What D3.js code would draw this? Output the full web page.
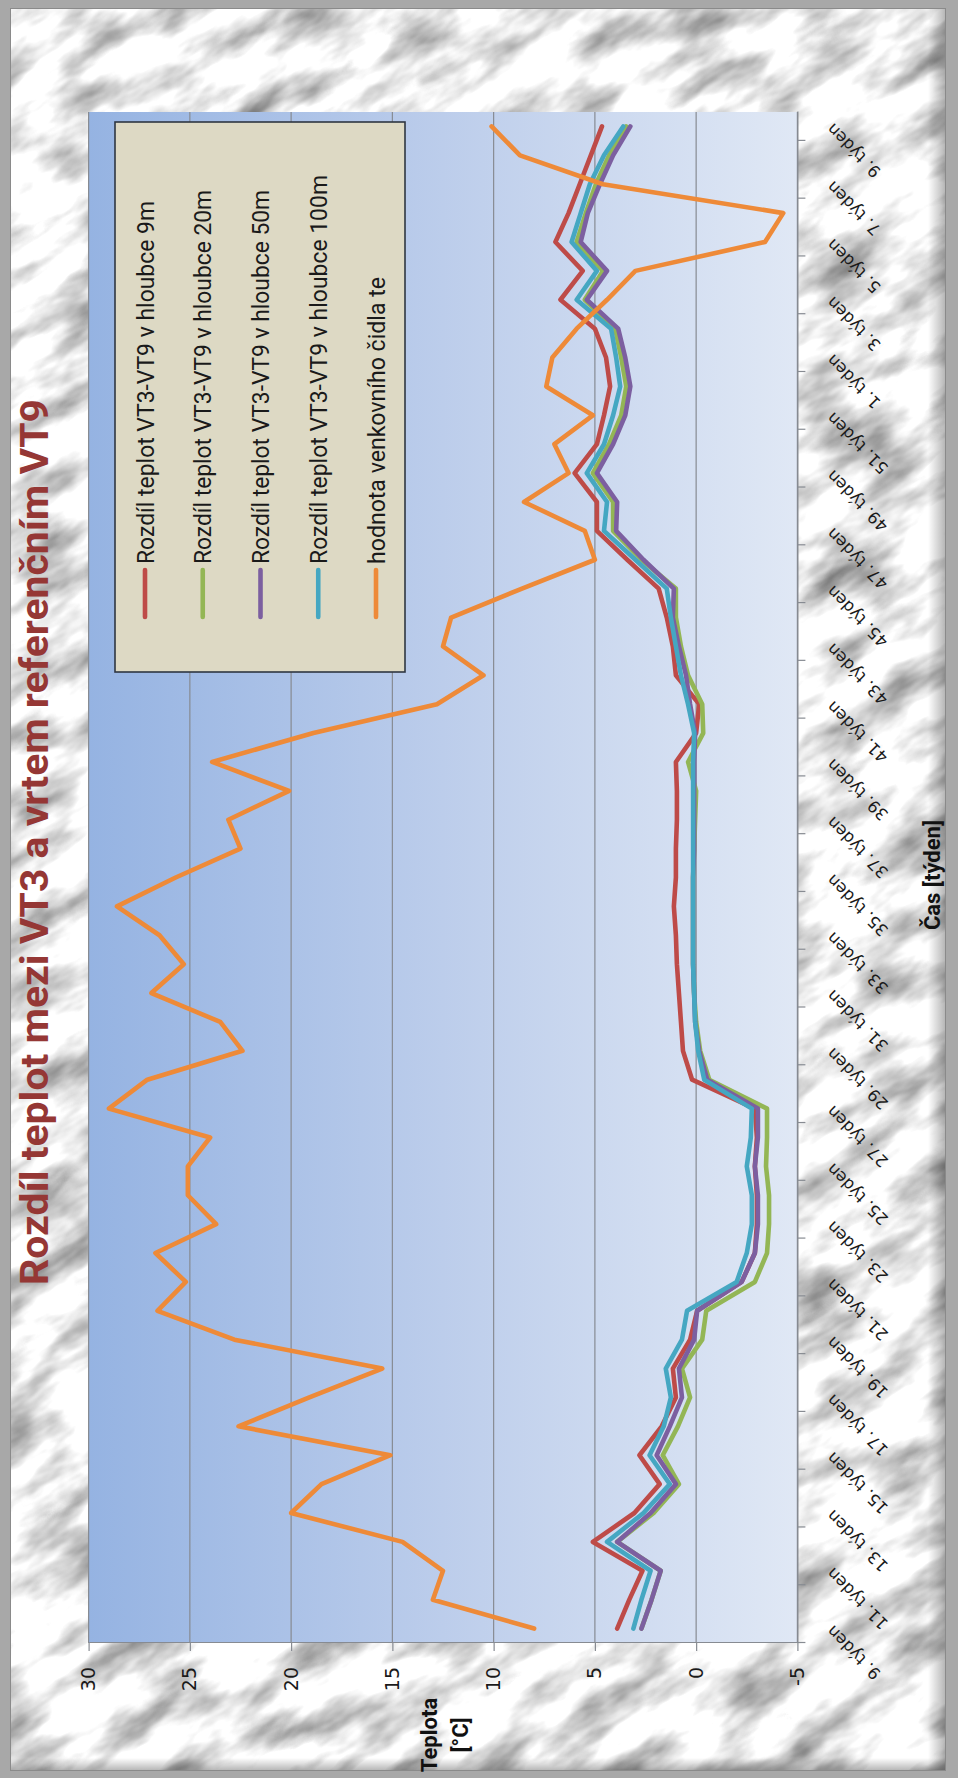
<!DOCTYPE html>
<html>
<head>
<meta charset="utf-8">
<script src="https://cdn.jsdelivr.net/npm/d3@7"></script>
<style>
  html, body { margin: 0; padding: 0; background: #ffffff; }
  svg { display: block; }
</style>
</head>
<body>
<div id="chart"></div>
<script>
// Week numbers along the time axis (week 9 of one year through week 9 of the next)
const weeks = [9,10,11,12,13,14,15,16,17,18,19,20,21,22,23,24,25,26,27,28,29,30,31,32,33,34,35,36,37,38,39,40,41,42,43,44,45,46,47,48,49,50,51,52,1,2,3,4,5,6,7,8,9];
const weekLabels = weeks.map(w => w + ". týden");

// Temperature axis ticks
const tempTicks = [-5, 0, 5, 10, 15, 20, 25, 30];

const seriesNames = [
  "Rozdíl teplot VT3-VT9 v hloubce 9m",
  "Rozdíl teplot VT3-VT9 v hloubce 20m",
  "Rozdíl teplot VT3-VT9 v hloubce 50m",
  "Rozdíl teplot VT3-VT9 v hloubce 100m",
  "hodnota venkovního čidla te"
];

// Temperature differences VT3 - VT9 [°C]
const diff9m = [3.9, 3.3, 2.65, 5.1, 3.05, 1.8, 2.8, 1.7, 1.0, 1.15,
  0.3, -0.05, -2.25, -2.9, -3.0, -3.0, -2.9, -3.0, -2.9, 0.2,
  0.65, 0.75, 0.85, 0.95, 1.0, 1.1, 1.0, 1.0, 0.95, 0.95,
  1.0, 0.0, -0.15, 1.0, 1.15, 1.45, 1.85, 3.4, 4.9, 4.9,
  6.0, 4.9, 4.55, 4.25, 4.45, 5.0, 6.7, 5.6, 6.95, 6.3,
  5.75, 5.2, 4.65];
const diff20m = [2.7, 2.2, 1.75, 3.9, 2.1, 0.85, 1.65, 0.9, 0.3, 0.7,
  -0.3, -0.5, -2.9, -3.5, -3.6, -3.6, -3.45, -3.5, -3.5, -0.65,
  -0.2, 0.0, 0.1, 0.15, 0.15, 0.15, 0.15, 0.1, 0.05, 0.0,
  0.4, -0.35, -0.3, 0.4, 0.75, 1.0, 1.0, 2.7, 4.1, 4.1,
  5.1, 4.3, 3.7, 3.45, 3.7, 4.0, 5.5, 4.6, 5.9, 5.45,
  4.95, 4.3, 3.45];
const diff50m = [2.7, 2.2, 1.75, 3.9, 2.25, 1.0, 1.95, 1.3, 0.7, 0.85,
  0.1, -0.05, -2.25, -2.9, -3.05, -3.05, -2.9, -3.05, -3.05, -0.55,
  -0.15, 0.05, 0.1, 0.15, 0.15, 0.15, 0.15, 0.1, 0.1, 0.1,
  0.1, 0.05, 0.3, 0.5, 0.85, 1.15, 1.1, 2.6, 3.95, 3.9,
  4.9, 4.1, 3.5, 3.25, 3.5, 3.85, 5.4, 4.4, 5.7, 5.35,
  4.75, 4.1, 3.25];
const diff100m = [3.1, 2.7, 2.25, 4.4, 2.6, 1.3, 2.3, 1.6, 1.25, 1.5,
  0.7, 0.45, -2.0, -2.5, -2.75, -2.75, -2.5, -2.7, -2.75, -0.4,
  -0.1, 0.05, 0.1, 0.15, 0.15, 0.15, 0.15, 0.15, 0.15, 0.15,
  0.15, 0.1, 0.4, 0.75, 1.0, 1.25, 1.45, 3.0, 4.55, 4.4,
  5.4, 4.55, 4.1, 3.75, 3.95, 4.2, 5.9, 4.9, 6.15, 5.7,
  5.25, 4.55, 3.6];
// Outdoor sensor temperature te [°C]
const outdoorTe = [8.0, 13.0, 12.5, 14.5, 20.0, 18.5, 15.1, 22.6, 19.1, 15.5,
  22.8, 26.6, 25.2, 26.7, 23.7, 25.1, 25.1, 24.0, 29.0, 27.1,
  22.4, 23.5, 26.9, 25.3, 26.5, 28.6, 25.7, 22.5, 23.1, 20.1,
  23.9, 18.9, 12.8, 10.5, 12.5, 12.1, 8.6, 5.0, 5.5, 8.5,
  6.3, 7.0, 5.1, 7.4, 7.1, 5.9, 4.4, 3.0, -3.4, -4.3,
  4.6, 8.7, 10.1];

const seriesColors = ["#BE4B48", "#93B655", "#7C5FA0", "#45A7C2", "#EE8A38"];
const seriesValues = [diff9m, diff20m, diff50m, diff100m, outdoorTe];

// ---------------------------------------------------------------
const PW = 958, PH = 1778;     // portrait page
// the chart is laid out landscape (1778 x 958), then turned a quarter left

const svg = d3.select("#chart").append("svg")
  .attr("width", PW).attr("height", PH)
  .attr("viewBox", `0 0 ${PW} ${PH}`);

const defs = svg.append("defs");

// marble-like backdrop: soft noise, turned diagonally
const marble = defs.append("filter")
  .attr("id", "marble")
  .attr("filterUnits", "userSpaceOnUse")
  .attr("x", -900).attr("y", -900).attr("width", 2800).attr("height", 3600)
  .attr("color-interpolation-filters", "sRGB");
marble.append("feTurbulence")
  .attr("type", "fractalNoise")
  .attr("baseFrequency", "0.012 0.03")
  .attr("numOctaves", 4)
  .attr("seed", 5)
  .attr("result", "noise");
marble.append("feColorMatrix")
  .attr("in", "noise")
  .attr("type", "matrix")
  .attr("values", "1.0 0 0 0 0.43  1.0 0 0 0 0.43  1.0 0 0 0 0.43  0 0 0 0 1");

defs.append("clipPath").attr("id", "frameClip")
  .append("rect").attr("x", 10).attr("y", 8).attr("width", 936).attr("height", 1763);

// right / bottom edge shading
const shadeR = defs.append("linearGradient").attr("id", "shadeR")
  .attr("x1", 0).attr("y1", 0).attr("x2", 1).attr("y2", 0);
shadeR.append("stop").attr("offset", "0%").attr("stop-color", "#000").attr("stop-opacity", 0);
shadeR.append("stop").attr("offset", "100%").attr("stop-color", "#000").attr("stop-opacity", 0.3);
const shadeB = defs.append("linearGradient").attr("id", "shadeB")
  .attr("x1", 0).attr("y1", 0).attr("x2", 0).attr("y2", 1);
shadeB.append("stop").attr("offset", "0%").attr("stop-color", "#000").attr("stop-opacity", 0);
shadeB.append("stop").attr("offset", "100%").attr("stop-color", "#000").attr("stop-opacity", 0.3);

// plot area fill: deeper blue at the warm end, pale at the cold end
const plotGrad = defs.append("linearGradient").attr("id", "plotGrad")
  .attr("x1", 0).attr("y1", 0).attr("x2", 0).attr("y2", 1);
plotGrad.append("stop").attr("offset", "0%").attr("stop-color", "#95b3e2");
plotGrad.append("stop").attr("offset", "50%").attr("stop-color", "#bccdeb");
plotGrad.append("stop").attr("offset", "100%").attr("stop-color", "#e0e8f5");

// frame + backdrop
svg.append("rect").attr("width", PW).attr("height", PH).attr("fill", "#a8a8a8");
svg.append("g").attr("clip-path", "url(#frameClip)")
  .append("g").attr("transform", "rotate(-32 479 889)")
  .append("rect").attr("x", -700).attr("y", -700).attr("width", 2400).attr("height", 3200)
  .attr("fill", "#ddd").attr("filter", "url(#marble)");
svg.append("rect").attr("x", 928).attr("y", 8).attr("width", 18).attr("height", 1763)
  .attr("fill", "url(#shadeR)");
svg.append("rect").attr("x", 10).attr("y", 1758).attr("width", 936).attr("height", 13)
  .attr("fill", "url(#shadeB)");
svg.append("rect").attr("x", 10.5).attr("y", 8.5).attr("width", 935).attr("height", 1762)
  .attr("fill", "none").attr("stroke", "#8a8a8a").attr("stroke-width", 1);

// chart group in landscape coordinates
const g = svg.append("g").attr("transform", `translate(0,${PH}) rotate(-90)`);

const plot = { left: 135, right: 1666, top: 88.6, bottom: 797.4 };

const x = d3.scaleBand()
  .domain(d3.range(weeks.length))
  .range([plot.left, plot.right])
  .paddingInner(0).paddingOuter(0);
const xc = i => x(i) + x.bandwidth() / 2;

const y = d3.scaleLinear().domain([-5, 30]).range([plot.bottom, plot.top]);

// plot background
g.append("rect")
  .attr("x", plot.left).attr("y", plot.top)
  .attr("width", plot.right - plot.left).attr("height", plot.bottom - plot.top)
  .attr("fill", "url(#plotGrad)");

// horizontal gridlines
g.append("g").selectAll("line").data(tempTicks).join("line")
  .attr("x1", plot.left).attr("x2", plot.right)
  .attr("y1", d => y(d)).attr("y2", d => y(d))
  .attr("stroke", "#878b92").attr("stroke-width", 1.2);

// value axis
const yAxis = g.append("g")
  .attr("transform", `translate(${plot.left},0)`)
  .call(d3.axisLeft(y).tickValues(tempTicks).tickFormat(d => String(d))
    .tickSize(8).tickPadding(16).tickSizeOuter(0));
yAxis.select(".domain").attr("stroke", "#878b92").attr("stroke-width", 1.2);
yAxis.selectAll(".tick line").attr("stroke", "#878b92").attr("stroke-width", 1.2);
yAxis.selectAll(".tick text")
  .attr("font-family", "DejaVu Sans, Verdana, sans-serif")
  .attr("font-size", 19).attr("fill", "#1a1a1a");

// category axis: tick marks on every second band boundary
const boundary = d3.scaleLinear().domain([0, weeks.length]).range([plot.left, plot.right]);
const evenIdx = d3.range(0, weeks.length, 2);
const xTicks = g.append("g")
  .attr("transform", `translate(0,${plot.bottom})`)
  .call(d3.axisBottom(boundary).tickValues(evenIdx).tickFormat("").tickSize(8).tickSizeOuter(0));
xTicks.select(".domain").attr("stroke", "#878b92").attr("stroke-width", 1.2);
xTicks.selectAll(".tick line").attr("stroke", "#878b92").attr("stroke-width", 1.2);

// category labels centred on every second band, slanted
const xLabels = g.append("g")
  .attr("transform", `translate(0,${plot.bottom})`)
  .call(d3.axisBottom(x).tickValues(evenIdx).tickFormat(i => weekLabels[i]).tickSize(0).tickSizeOuter(0));
xLabels.select(".domain").remove();
xLabels.selectAll(".tick text")
  .attr("font-family", "DejaVu Sans, Verdana, sans-serif")
  .attr("font-size", 16.5).attr("fill", "#1a1a1a")
  .attr("x", 0).attr("y", 0).attr("dy", "0.35em")
  .attr("text-anchor", "end")
  .attr("transform", "translate(0,32) rotate(-45)");

// data lines
const line = d3.line().x((d, i) => xc(i)).y(d => y(d));
const seriesG = g.append("g");
seriesValues.forEach((vals, k) => {
  seriesG.append("path")
    .datum(vals)
    .attr("d", line)
    .attr("fill", "none")
    .attr("stroke", seriesColors[k])
    .attr("stroke-width", 4.6)
    .attr("stroke-linejoin", "round")
    .attr("stroke-linecap", "round");
});

// legend
const leg = { x: 1106, y: 115, w: 550, h: 290 };
const legG = g.append("g");
legG.append("rect")
  .attr("x", leg.x).attr("y", leg.y).attr("width", leg.w).attr("height", leg.h)
  .attr("fill", "#ddd9c4").attr("stroke", "#2f3642").attr("stroke-width", 1.6);
const rowY = d3.scalePoint().domain(d3.range(seriesNames.length)).range([145, 376]);
const legendLengths = [363, 374, 374, 389, 287];
seriesNames.forEach((name, k) => {
  legG.append("line")
    .attr("x1", 1161).attr("x2", 1208)
    .attr("y1", rowY(k)).attr("y2", rowY(k))
    .attr("stroke", seriesColors[k]).attr("stroke-width", 4.6)
    .attr("stroke-linecap", "round");
  legG.append("text")
    .attr("x", 1214).attr("y", rowY(k)).attr("dy", "0.36em")
    .attr("font-family", "Roboto, 'Noto Sans', sans-serif")
    .attr("font-size", 24).attr("fill", "#1a1a1a")
    .attr("textLength", legendLengths[k]).attr("lengthAdjust", "spacingAndGlyphs")
    .text(name);
});

// title
g.append("text")
  .attr("x", 936).attr("y", 48)
  .attr("text-anchor", "middle")
  .attr("font-family", "Roboto, 'Noto Sans', sans-serif")
  .attr("font-weight", "bold").attr("font-size", 38)
  .attr("fill", "#953735")
  .attr("textLength", 886).attr("lengthAdjust", "spacingAndGlyphs")
  .text("Rozdíl teplot mezi VT3 a vrtem referenčním VT9");

// axis titles
const yTitle = g.append("text")
  .attr("text-anchor", "middle")
  .attr("font-family", "Roboto, 'Noto Sans', sans-serif")
  .attr("font-weight", "bold").attr("font-size", 22).attr("fill", "#111");
yTitle.append("tspan").attr("x", 43).attr("y", 437).text("Teplota");
yTitle.append("tspan").attr("x", 43).attr("y", 468).text("[°C]");

g.append("text")
  .attr("x", 903).attr("y", 940)
  .attr("text-anchor", "middle")
  .attr("font-family", "Roboto, 'Noto Sans', sans-serif")
  .attr("font-weight", "bold").attr("font-size", 22).attr("fill", "#111")
  .text("Čas [týden]");
</script>
</body>
</html>
